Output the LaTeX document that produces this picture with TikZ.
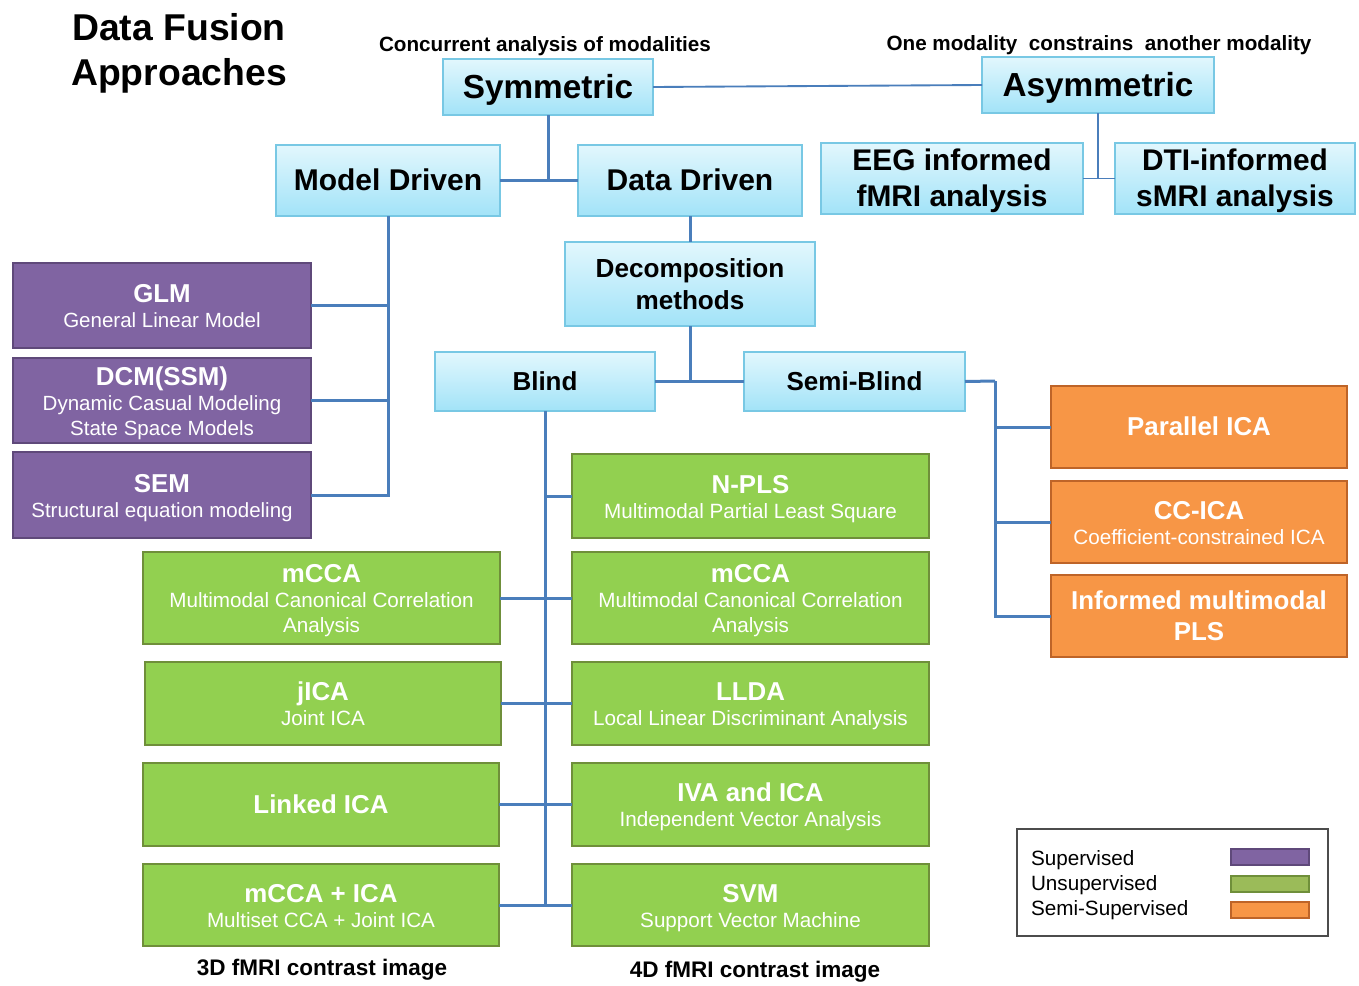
\documentclass[tikz,border=0pt]{standalone}
\usepackage{fontspec}
\setmainfont{Liberation Sans}
\definecolor{bluetop}{HTML}{E2F7FD}
\definecolor{bluebot}{HTML}{A2E3F8}
\definecolor{bluebord}{HTML}{78C8E4}
\definecolor{purpfill}{HTML}{8064A2}
\definecolor{purpbord}{HTML}{5F497A}
\definecolor{grnfill}{HTML}{92D050}
\definecolor{grnbord}{HTML}{6F8F3A}
\definecolor{orngfill}{HTML}{F79646}
\definecolor{orngbord}{HTML}{BE6428}
\definecolor{connblue}{HTML}{4A7EBB}
\definecolor{legfill}{HTML}{9BBB59}
\newcommand\fsz[2]{\fontsize{#1}{#2}\selectfont}
\newcommand\mystrut{\rule[-0.212em]{0pt}{1.117em}}
\newcommand\mkbox[7]{%
  \pgfmathsetmacro\mbcx{(#3+#5)/2}%
  \pgfmathsetmacro\mbcy{(#4+#6)/2}%
  \pgfmathsetmacro\mbw{(#5-#3)*0.75}%
  \pgfmathsetmacro\mbh{(#6-#4)*0.75}%
  \node[#1, minimum width=\mbw pt, minimum height=\mbh pt] (#2) at (\mbcx,\mbcy) {\mystrut#7\mystrut};}
\newcommand\ttl[1]{{\fsz{19.4}{23}\bfseries\mystrut #1}}
\tikzset{
  anybox/.style={rectangle, inner sep=0pt, outer sep=0pt, align=center},
  bluebox/.style={anybox, draw=bluebord, line width=1.1pt, top color=bluetop, bottom color=bluebot, text=black},
  purpbox/.style={anybox, draw=purpbord, line width=2pt, fill=purpfill, text=white, font=\fsz{15.4}{18.75}},
  grnbox/.style={anybox, draw=grnbord, line width=2pt, fill=grnfill, text=white, font=\fsz{15.5}{18.75}},
  orngbox/.style={anybox, draw=orngbord, line width=2pt, fill=orngfill, text=white, font=\fsz{15.5}{18.75}},
  conn/.style={draw=connblue, line width=2.25pt},
  thinconn/.style={draw=connblue, line width=1.4pt},
  lbl/.style={inner sep=0pt, outer sep=0pt, text=black},
}
\begin{document}
\begin{tikzpicture}[x=0.75pt,y=-0.75pt]
\useasboundingbox[fill=white] (0,0) rectangle (1359,985);

% title and labels
\node[lbl, align=center, font=\fsz{28}{33.75}\bfseries] (title) at (179,50) {\mystrut Data Fusion\\Approaches\mystrut};
\node[lbl, font=\fsz{15.5}{18}\bfseries] (conc) at (545,44) {\mystrut Concurrent analysis of modalities};
\node[lbl, font=\fsz{15.5}{18}\bfseries] (onemod) at (1099,43) {\mystrut One modality\ \ constrains\ \ another modality};
\node[lbl, font=\fsz{16.9}{20}\bfseries] (lab3d) at (322,968) {\mystrut 3D fMRI contrast image};
\node[lbl, font=\fsz{16.9}{20}\bfseries] (lab4d) at (755,970) {\mystrut 4D fMRI contrast image};

% blue boxes
\mkbox{bluebox, font=\fsz{25}{30}\bfseries}{sym}{443}{59}{653}{115}{Symmetric}
\mkbox{bluebox, font=\fsz{25}{30}\bfseries}{asym}{982}{57}{1214}{113}{Asymmetric}
\mkbox{bluebox, font=\fsz{22.5}{27}\bfseries}{md}{276}{145}{500}{216}{Model Driven}
\mkbox{bluebox, font=\fsz{22.5}{27}\bfseries}{dd}{578}{145}{802}{216}{Data Driven}
\mkbox{bluebox, font=\fsz{22.4}{27}\bfseries}{eeg}{821}{143}{1083}{214}{EEG informed\\fMRI analysis}
\mkbox{bluebox, font=\fsz{22.4}{27}\bfseries}{dti}{1115}{143}{1355}{214}{DTI-informed\\sMRI analysis}
\mkbox{bluebox, font=\fsz{19.6}{24}\bfseries}{dec}{565}{242}{815}{326}{Decomposition\\methods}
\mkbox{bluebox, font=\fsz{19.5}{24}\bfseries}{blind}{435}{352}{655}{411}{Blind}
\mkbox{bluebox, font=\fsz{19.5}{24}\bfseries}{semi}{744}{352}{965}{411}{Semi-Blind}

% purple boxes
\mkbox{purpbox}{glm}{13}{263}{311}{348}{\ttl{GLM}\\General Linear Model}
\mkbox{purpbox}{dcm}{13}{358}{311}{443}{\ttl{DCM(SSM)}\\Dynamic Casual Modeling\\State Space Models}
\mkbox{purpbox}{sem}{13}{452}{311}{538}{\ttl{SEM}\\Structural equation modeling}

% green boxes, right column
\mkbox{grnbox}{npls}{572}{454}{929}{538}{\ttl{N-PLS}\\Multimodal Partial Least Square}
\mkbox{grnbox}{mccar}{572}{552}{929}{644}{\ttl{mCCA}\\Multimodal Canonical Correlation\\Analysis}
\mkbox{grnbox}{llda}{572}{662}{929}{745}{\ttl{LLDA}\\Local Linear Discriminant Analysis}
\mkbox{grnbox}{iva}{572}{763}{929}{846}{\ttl{IVA and ICA}\\Independent Vector Analysis}
\mkbox{grnbox}{svm}{572}{864}{929}{946}{\ttl{SVM}\\Support Vector Machine}

% green boxes, left column
\mkbox{grnbox}{mccal}{143}{552}{500}{644}{\ttl{mCCA}\\Multimodal Canonical Correlation\\Analysis}
\mkbox{grnbox}{jica}{145}{662}{501}{745}{\ttl{jICA}\\Joint ICA}
\mkbox{grnbox}{linked}{143}{763}{499}{846}{\ttl{Linked ICA}}
\mkbox{grnbox}{mccaica}{143}{864}{499}{946}{\ttl{mCCA + ICA}\\Multiset CCA + Joint ICA}

% orange boxes
\mkbox{orngbox}{pica}{1051}{386}{1347}{468}{\ttl{Parallel ICA}}
\mkbox{orngbox}{ccica}{1051}{481}{1347}{563}{\ttl{CC-ICA}\\Coefficient-constrained ICA}
\mkbox{orngbox}{impls}{1051}{575}{1347}{657}{\ttl{Informed multimodal}\\[0.5pt]\ttl{PLS}}

% connectors
\draw[thinconn] (sym.east) -- (asym.west);
\draw[conn] (sym.south) |- (md.east);
\draw[conn] (sym.south) |- (dd.west);
\draw[thinconn] (asym.south) |- (eeg.east);
\draw[thinconn] (asym.south) |- (dti.west);
\draw[conn] (dd.south) -- (dec.north);
\draw[conn] (dec.south) |- (blind.east);
\draw[conn] (dec.south) |- (semi.west);

\draw[conn] (md.south) |- (glm.east);
\draw[conn] (md.south) |- (dcm.east);
\draw[conn] (md.south) |- (sem.east);

\coordinate (sbj) at (995,381);
\draw[conn] (semi.east) -- (sbj);
\draw[conn] (sbj) |- (pica.west);
\draw[conn] (sbj) |- (ccica.west);
\draw[conn] (sbj) |- (impls.west);

\draw[conn] (blind.south) |- (npls.west);
\draw[conn] (blind.south) |- (mccar.west);
\draw[conn] (blind.south) |- (llda.west);
\draw[conn] (blind.south) |- (iva.west);
\draw[conn] (blind.south) |- (svm.west);
\draw[conn] (blind.south) |- (mccal.east);
\draw[conn] (blind.south) |- (jica.east);
\draw[conn] (blind.south) |- (linked.east);
\draw[conn] (blind.south) |- (mccaica.east);

% legend
\mkbox{anybox, draw=black!70, line width=1.3pt, fill=white}{leg}{1017}{829}{1328}{936}{}
\node[lbl, anchor=west, font=\fsz{15.5}{18}] (lsup) at (1031,858) {\mystrut Supervised};
\node[lbl, anchor=west, font=\fsz{15.5}{18}] (lunsup) at (1031,883) {\mystrut Unsupervised};
\node[lbl, anchor=west, font=\fsz{15.5}{18}] (lsemi) at (1031,908) {\mystrut Semi-Supervised};
\mkbox{anybox, draw=purpbord, line width=1.5pt, fill=purpfill}{swsup}{1231}{849}{1309}{865}{}
\mkbox{anybox, draw=grnbord, line width=1.5pt, fill=legfill}{swunsup}{1231}{876}{1309}{892}{}
\mkbox{anybox, draw=orngbord, line width=1.5pt, fill=orngfill}{swsemi}{1231}{902}{1309}{918}{}
\end{tikzpicture}
\end{document}
